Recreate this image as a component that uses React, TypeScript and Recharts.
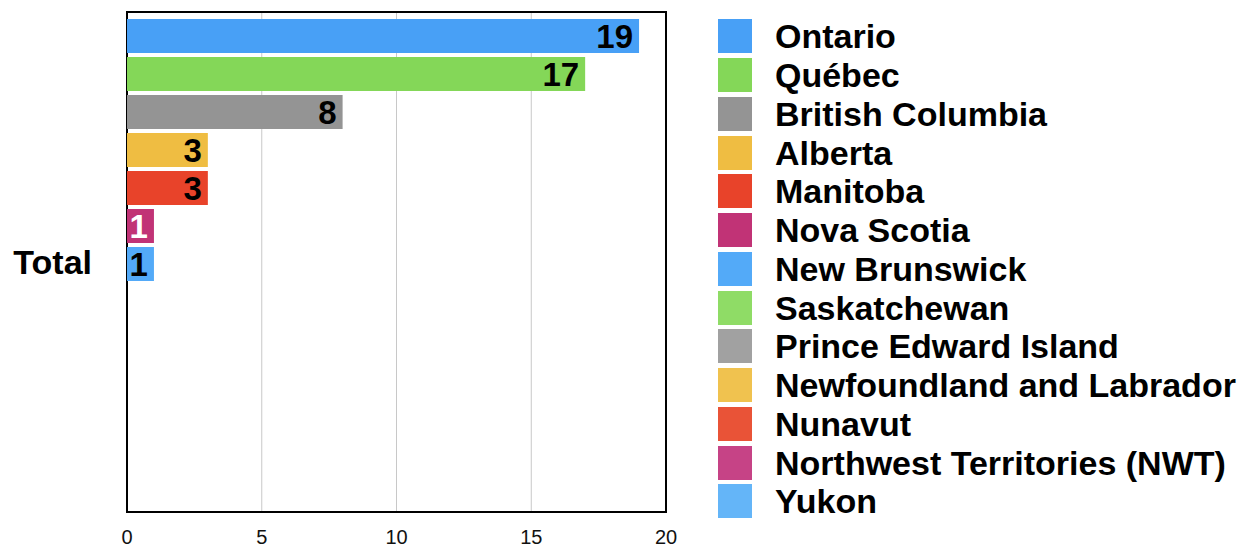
import React from 'react';
import {
  BarChart,
  Bar,
  XAxis,
  YAxis,
  CartesianGrid,
  ReferenceArea,
  LabelList,
} from 'recharts';

const categories = ['Total'];
const provinces = [
  'Ontario',
  'Québec',
  'British Columbia',
  'Alberta',
  'Manitoba',
  'Nova Scotia',
  'New Brunswick',
  'Saskatchewan',
  'Prince Edward Island',
  'Newfoundland and Labrador',
  'Nunavut',
  'Northwest Territories (NWT)',
  'Yukon',
];
const totals = [19, 17, 8, 3, 3, 1, 1, 0, 0, 0, 0, 0, 0];
const colors = [
  '#48a0f6', // blue
  '#84d758', // green
  '#949494', // grey
  '#efbd42', // yellow
  '#e8432a', // red
  '#c13376', // magenta
  '#53aaf8',
  '#8fdc66',
  '#a1a1a1',
  '#f0c24f',
  '#e95337',
  '#c64386',
  '#64b5f8',
];
const xTicks = [0, 5, 10, 15, 20];

const data = categories.map((name) => {
  const row: Record<string, string | number> = { name };
  provinces.forEach((p, i) => {
    row[p] = totals[i];
  });
  return row;
});

const FONT = '"Liberation Sans", Arial, Helvetica, sans-serif';

const makeLabel = (textColor: string) => (props: any) => {
  const { x, y, width, height, value } = props;
  if (!value) return null;
  return (
    <text
      x={x + width - 6}
      y={y + height / 2}
      textAnchor="end"
      dominantBaseline="central"
      fontFamily={FONT}
      fontWeight="bold"
      fontSize={33}
      fill={textColor}
    >
      {value}
    </text>
  );
};

export default function App() {
  return (
    <div
      style={{
        position: 'absolute',
        left: 0,
        top: 0,
        width: 1249,
        height: 550,
        overflow: 'hidden',
        fontFamily: FONT,
      }}
    >
      <BarChart
        width={1249}
        height={550}
        data={data}
        layout="vertical"
        margin={{ top: 12, right: 583, bottom: 0, left: 0 }}
        barCategoryGap={7}
        barGap={4}
      >
        <CartesianGrid horizontal={false} stroke="#c8c8c8" />
        <XAxis
          type="number"
          domain={[0, 20]}
          ticks={xTicks}
          axisLine={false}
          tickLine={false}
          tickSize={0}
          tickMargin={18}
          height={38}
          tick={{ fontSize: 20, fill: '#111', fontFamily: FONT }}
        />
        <YAxis
          type="category"
          dataKey="name"
          width={127}
          axisLine={false}
          tickLine={false}
          tickSize={0}
          tickMargin={35}
          tick={{ fontSize: 34, fontWeight: 'bold', fill: '#000', fontFamily: FONT }}
        />
        {provinces.map((p, i) => (
          <Bar key={p} dataKey={p} fill={colors[i]} isAnimationActive={false}>
            <LabelList dataKey={p} content={makeLabel(p === 'Nova Scotia' ? '#fff' : '#000')} />
          </Bar>
        ))}
        <ReferenceArea x1={0} x2={20} fill="none" stroke="#000" strokeWidth={2} ifOverflow="extendDomain" />
      </BarChart>
      <div style={{ position: 'absolute', left: 718, top: 17 }}>
        {provinces.map((p, i) => (
          <div key={p} style={{ display: 'flex', alignItems: 'center', height: 38.75 }}>
            <div style={{ width: 34, height: 34, background: colors[i], flexShrink: 0 }} />
            <span
              style={{
                marginLeft: 23,
                fontSize: 34,
                fontWeight: 'bold',
                color: '#000',
                whiteSpace: 'nowrap',
                lineHeight: '34px',
              }}
            >
              {p}
            </span>
          </div>
        ))}
      </div>
    </div>
  );
}
